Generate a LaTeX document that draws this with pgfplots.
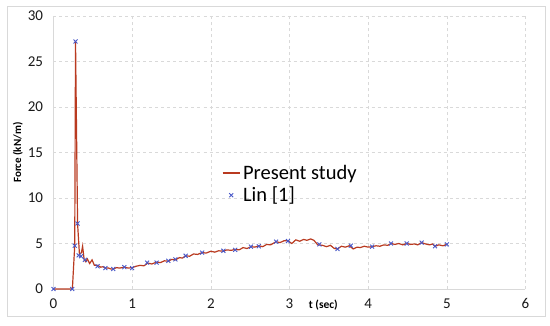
\documentclass[border=0pt]{standalone}
\usepackage{fontspec}
\setmainfont{Carlito}
\usepackage{pgfplots}
\pgfplotsset{compat=1.18}
\definecolor{lineR}{RGB}{185,58,32}
\definecolor{markB}{RGB}{72,88,200}
\definecolor{gridc}{RGB}{217,217,217}
\begin{document}
\begin{tikzpicture}
\useasboundingbox (0,0) rectangle (550pt,325pt);
\draw[gridc, line width=0.8pt] (7pt,9pt) rectangle (545pt,319pt);
\begin{axis}[
  at={(53.5pt,36pt)}, anchor=south west,
  scale only axis, width=472pt, height=273pt,
  xmin=0, xmax=6, ymin=0, ymax=30,
  xtick={0,1,2,3,4,5,6}, ytick={0,5,10,15,20,25,30},
  axis x line*=bottom, axis y line*=left,
  axis line style={gridc, line width=0.8pt, -},
  major tick length=0pt,
  grid=major,
  grid style={gridc, dashed, line width=0.6pt},
  /pgf/number format/assume math mode=true,
  tick label style={font=\fontsize{15}{17}\selectfont, text=black!90},
  xticklabel style={yshift=-6pt},
  yticklabel style={xshift=-7pt},
  legend style={at={(axis cs:2.1,11.5)}, anchor=west, draw=none, fill=none,
    font=\fontsize{20.5}{23}\selectfont, row sep=2pt},
  legend cell align=left,
  clip=false,
]
\addplot[lineR, line width=1.2pt,
  legend image code/.code={\draw[lineR, line width=1.6pt] (0cm,0cm) -- (0.62cm,0cm);}] coordinates {
(0,0) (0.24,0) (0.27,4.8) (0.28,27.2) (0.306,7.2) (0.33,3.8) (0.355,4.0) (0.37,4.7) (0.39,3.2)
(0.41,3.0) (0.43,3.3) (0.46,2.8) (0.49,3.2) (0.52,2.6) (0.56,2.6) (0.60,2.4) (0.63,2.45)
(0.66,2.3) (0.70,2.3) (0.73,2.2) (0.76,2.2) (0.80,2.35) (0.84,2.3) (0.9,2.4) (0.95,2.3)
(1.0,2.35) (1.05,2.5) (1.1,2.6) (1.15,2.55) (1.2,2.85) (1.25,2.75) (1.31,2.95) (1.36,2.9)
(1.41,3.1) (1.46,3.05) (1.5,3.25) (1.55,3.2) (1.6,3.45) (1.64,3.4) (1.68,3.65) (1.73,3.6)
(1.78,3.85) (1.83,3.8) (1.89,4.0) (1.94,3.95) (2.0,4.15) (2.05,4.05) (2.1,4.2) (2.16,4.15)
(2.2,4.3) (2.26,4.25) (2.31,4.35) (2.36,4.3) (2.41,4.55) (2.46,4.45) (2.51,4.65) (2.56,4.6)
(2.61,4.75) (2.66,4.65) (2.71,4.9) (2.76,4.85) (2.83,5.2) (2.88,5.1) (2.93,5.3) (2.98,5.3)
(3.03,5.0) (3.08,5.4) (3.13,5.25) (3.18,5.45) (3.22,5.35) (3.27,5.5) (3.31,5.35) (3.36,4.85)
(3.42,4.8) (3.47,4.65) (3.52,4.8) (3.57,4.45) (3.61,4.4) (3.66,4.7) (3.71,4.6) (3.76,4.75)
(3.81,4.4) (3.86,4.6) (3.9,4.55) (3.95,4.7) (4.0,4.6) (4.05,4.65) (4.1,4.75) (4.15,4.7)
(4.2,4.85) (4.25,4.8) (4.29,5.0) (4.34,4.9) (4.39,5.0) (4.44,4.85) (4.49,5.0) (4.54,4.9)
(4.59,4.95) (4.63,4.85) (4.68,5.1) (4.73,4.95) (4.78,4.85) (4.82,4.95) (4.85,4.7) (4.9,4.85)
(4.95,4.75) (5.0,4.9)
};
\addlegendentry{Present study}
\addplot[only marks, mark=x, mark size=2.8pt, markB, line width=0.9pt] coordinates {
(0,0) (0.238,0) (0.27,4.76) (0.28,27.2) (0.306,7.2) (0.32,3.7) (0.35,3.6) (0.40,3.2)
(0.56,2.5) (0.66,2.3) (0.76,2.2) (0.90,2.4) (1.0,2.3) (1.19,2.9) (1.31,2.9) (1.46,3.1)
(1.55,3.25) (1.68,3.65) (1.89,4.0) (2.16,4.2) (2.31,4.3) (2.51,4.65) (2.61,4.7) (2.83,5.2)
(2.98,5.27) (3.38,4.9) (3.61,4.4) (3.78,4.76) (4.05,4.65) (4.29,5.0) (4.49,5.0) (4.68,5.1)
(4.85,4.7) (5.0,4.9)
};
\addlegendentry{Lin [1]}
\node[font=\bfseries\fontsize{11.5}{13}\selectfont, anchor=center] at ([yshift=-16pt]axis cs:3.43,0) {t (sec)};
\node[font=\bfseries\fontsize{11}{13}\selectfont, rotate=90, anchor=center] at ([xshift=-35.5pt]axis cs:0,15) {Force (kN/m)};
\end{axis}
\end{tikzpicture}
\end{document}
